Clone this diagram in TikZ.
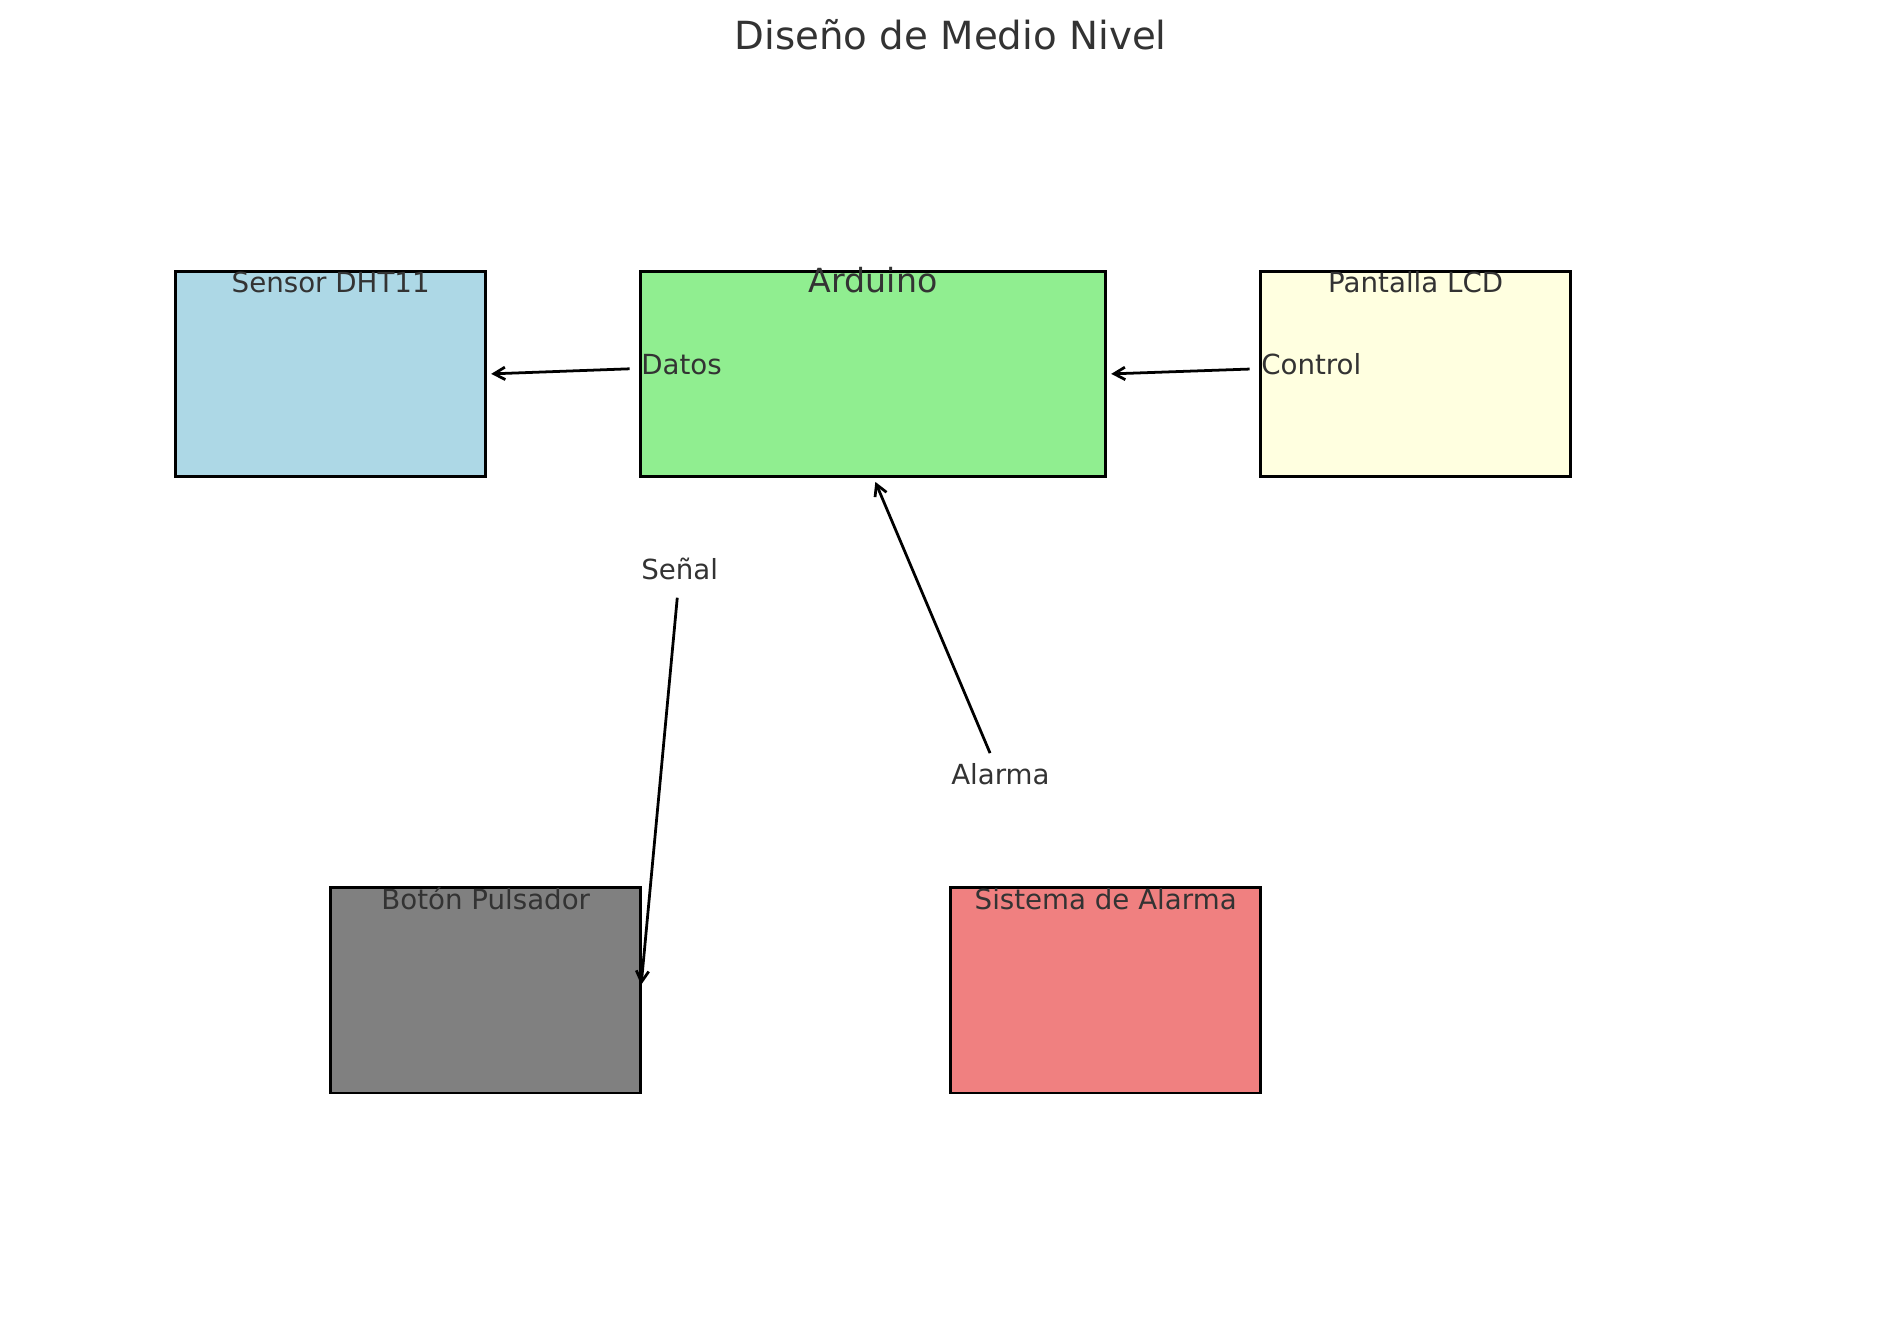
\documentclass[tikz,border=0pt]{standalone}
\usepackage{fontspec}
\setmainfont{DejaVu Sans}
\usetikzlibrary{arrows.meta}
\definecolor{lightblue}{HTML}{ADD8E6}
\definecolor{lightgreen}{HTML}{90EE90}
\definecolor{lightyellow}{HTML}{FFFFE0}
\definecolor{midgray}{HTML}{808080}
\definecolor{lightcoral}{HTML}{F08080}
\definecolor{textgray}{HTML}{333333}

\begin{document}
\begin{tikzpicture}[x=19.685mm,y=13.043mm,>={Straight Barb[length=4pt,width=4.5pt]},
  bloque/.style={draw=black,line width=1pt,inner sep=0pt,outer sep=0pt,minimum height=26.086mm,minimum width=39.37mm},
  titulo/.style={text=textgray,font=\fontsize{10}{12}\selectfont,anchor=base,inner sep=0pt},
  etiqueta/.style={text=textgray,font=\fontsize{10}{12}\selectfont,anchor=base west,inner sep=0pt,text height=0.76em,text depth=0.24em},
  flecha/.style={->,line width=1pt,shorten <=4pt,shorten >=2pt}]

\useasboundingbox (-0.1335,-2.1908) rectangle (12.1245,10.6427);

% bloques
\node[bloque,fill=lightblue] (sensor) at (2,7) {};
\node[bloque,fill=lightgreen,minimum width=59.055mm] (arduino) at (5.5,7) {};
\node[bloque,fill=lightyellow] (lcd) at (9,7) {};
\node[bloque,fill=midgray] (boton) at (3,1) {};
\node[bloque,fill=lightcoral] (alarma) at (7,1) {};

% nombres
\node[titulo,font=\fontsize{14}{17}\selectfont] (titulo) at (6,10.163) {Diseño de Medio Nivel};
\node[titulo] (tsensor) at (2,7.79) {Sensor DHT11};
\node[titulo,font=\fontsize{12}{14}\selectfont] (tarduino) at (5.5,7.79) {Arduino};
\node[titulo] (tlcd) at (9,7.79) {Pantalla LCD};
\node[titulo] (tboton) at (3,1.79) {Botón Pulsador};
\node[titulo] (talarma) at (7,1.79) {Sistema de Alarma};

% conexiones
\node[etiqueta] (datos) at (4,7) {Datos};
\node[etiqueta] (control) at (8,7) {Control};
\node[etiqueta] (senal) at (4,5) {Señal};
\node[etiqueta] (alarmatxt) at (6,3) {Alarma};

\draw[flecha] (datos) -- (sensor.east);
\draw[flecha] (control) -- (arduino.east);
\draw[flecha] (senal) -- (boton.east);
\draw[flecha] (alarmatxt) -- (arduino.south);
\end{tikzpicture}
\end{document}
